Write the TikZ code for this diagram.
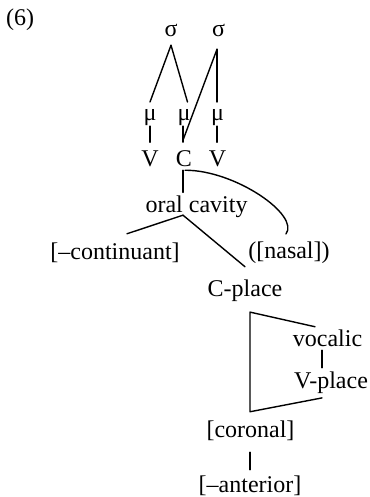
\documentclass[tikz,border=0pt]{standalone}
\usepackage{fontspec}
\setmainfont{Liberation Serif}
\begin{document}
\begin{tikzpicture}[x=0.5pt,y=-0.5pt,
  lbl/.style={inner sep=0pt,outer sep=0pt,anchor=base,font=\fontsize{12}{14}\selectfont},
  assoc/.style={line width=0.7pt,line cap=round,line join=round}]
\useasboundingbox (0,0) rectangle (369,497);

% example number
\node[lbl] (num) at (20,26) {(6)};

% prosodic tier
\node[lbl] (s1) at (171,37) {σ};
\node[lbl] (s2) at (218.5,37) {σ};
\node[lbl] (m1) at (150,121) {μ};
\node[lbl] (m2) at (184,121) {μ};
\node[lbl] (m3) at (217.5,121) {μ};
\node[lbl] (v1) at (150,167) {V};
\node[lbl] (c)  at (184,167) {C};
\node[lbl] (v2) at (217.5,167) {V};

% feature geometry
\node[lbl] (oral)  at (196.5,213) {oral cavity};
\node[lbl] (cont)  at (115,259) {[–continuant]};
\node[lbl] (nasal) at (289,258) {([nasal])};
\node[lbl] (cpl)   at (245,296) {C-place};
\node[lbl] (voc)   at (327.5,346) {vocalic};
\node[lbl] (vpl)   at (331,388) {V-place};
\node[lbl] (cor)   at (250.5,437) {[coronal]};
\node[lbl] (ant)   at (250,492) {[–anterior]};

% syllable and mora links
\draw[assoc] ([shift={(0,8)}]s1.south) -- ([shift={(0,-8)}]m1.north);
\draw[assoc] ([shift={(0,8)}]s1.south) -- ([shift={(3.5,-8)}]m2.north);
\draw[assoc] ([shift={(-1.5,12)}]s2.south) -- ([shift={(-1,-11)}]c.north);
\draw[assoc] ([shift={(-1.5,12)}]s2.south) -- ([shift={(-0.5,-8)}]m3.north);
\draw[assoc] (m1.south) -- ([shift={(0,-9)}]v1.north);
\draw[assoc] ([shift={(-1,0)}]m2.south) -- ([shift={(-1,-9)}]c.north);
\draw[assoc] ([shift={(-0.5,0)}]m3.south) -- ([shift={(-0.5,-9)}]v2.north);

% root node and its dependents
\draw[assoc] ([shift={(-1,3)}]c.south) -- ([shift={(-13.5,-4)}]oral.north);
\draw[assoc] ([shift={(1,3)}]c.south) .. controls (235,170) and (300,215) .. ([shift={(-3,-7.4)}]nasal.north);
\draw[assoc] ([shift={(-13.5,-3)}]oral.south) -- ([shift={(12,-8.6)}]cont.north);
\draw[assoc] ([shift={(-13.5,-3)}]oral.south) -- ([shift={(0,-12.6)}]cpl.north);

% place structure
\coordinate (tl) at ([shift={(5,11)}]cpl.south);
\coordinate (bl) at ([shift={(-0.5,-8.6)}]cor.north);
\draw[assoc] ([shift={(-12.5,-2.6)}]voc.north) -- (tl) -- (bl) -- ([shift={(-9,4.8)}]vpl.south);
\draw[assoc] ([shift={(-5.5,4)}]voc.south) -- ([shift={(-9,-3.6)}]vpl.north);
\draw[assoc] ([shift={(-0.5,12)}]cor.south) -- ([shift={(0,-5.6)}]ant.north);
\end{tikzpicture}
\end{document}
